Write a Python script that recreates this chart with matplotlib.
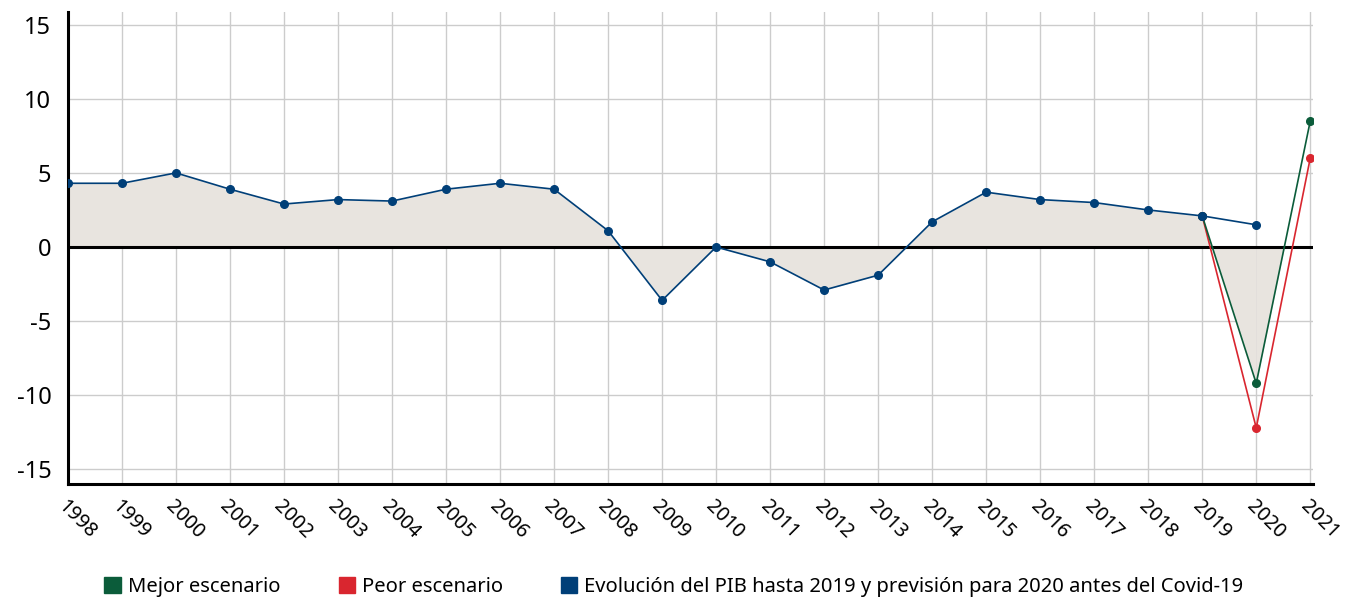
import numpy as np
import matplotlib.pyplot as plt
from matplotlib.patches import Patch

plt.rcParams['font.family'] = ['Noto Sans', 'DejaVu Sans']
plt.rcParams['axes.unicode_minus'] = False

# Datos: crecimiento del PIB (%)
anios = list(range(1998, 2022))
pib = [4.3, 4.3, 5.0, 3.9, 2.9, 3.2, 3.1, 3.9, 4.3, 3.9, 1.1, -3.6, 0.0,
       -1.0, -2.9, -1.9, 1.7, 3.7, 3.2, 3.0, 2.5, 2.1, 1.5]  # 1998-2020
anios_esc = [2019, 2020, 2021]
mejor = [2.1, -9.2, 8.5]
peor = [2.1, -12.2, 6.0]

verde = '#0b5c3a'
rojo = '#d9262f'
azul = '#003f78'
relleno = '#e8e4df'

fig = plt.figure(figsize=(13.48, 6.03), dpi=100)
ax = fig.add_axes([0.0504, 0.197, 0.9236, 0.783])

# Area sombreada: PIB hasta 2019 y mejor escenario
x_area = np.array(anios[:22] + anios_esc[1:])
y_area = np.array(pib[:22] + mejor[1:])
ax.fill_between(x_area[:-1], y_area[:-1], 0, color=relleno, lw=0, zorder=1)
ax.fill_between(x_area[-2:], y_area[-2:], 0, where=y_area[-2:] < 0,
                interpolate=True, color=relleno, lw=0, zorder=1)

ax.axhline(0, color='black', lw=2.2, zorder=3)

ax.plot(anios_esc, peor, color=rojo, lw=1.2, marker='o', ms=5.5, zorder=4)
ax.plot(anios_esc, mejor, color=verde, lw=1.2, marker='o', ms=5.5, zorder=5)
ax.plot(anios[:23], pib, color=azul, lw=1.2, marker='o', ms=5.5, zorder=6)

ax.set_xlim(1998, 2021.05)
ax.set_ylim(-16, 15.85)
ax.set_yticks([-15, -10, -5, 0, 5, 10, 15])
ax.set_xticks(anios)
ax.set_xticklabels([str(a) for a in anios], rotation=-45, ha='left', va='top',
                   rotation_mode='anchor', fontsize=14.3)
ax.tick_params(axis='x', length=0, pad=9)
ax.tick_params(axis='y', length=0, pad=12, labelsize=17)

ax.grid(True, color='#cccccc', lw=1)
ax.set_axisbelow(True)
for lado in ['top', 'right']:
    ax.spines[lado].set_visible(False)
ax.spines['left'].set_linewidth(2.2)
ax.spines['bottom'].set_linewidth(2.2)

handles = [Patch(color=verde, label='Mejor escenario'),
           Patch(color=rojo, label='Peor escenario'),
           Patch(color=azul, label='Evolución del PIB hasta 2019 y previsión para 2020 antes del Covid-19')]
fig.legend(handles=handles, loc='lower center', bbox_to_anchor=(0.5, -0.02), ncol=3,
           frameon=False, fontsize=14.5, handlelength=0.8, handleheight=0.8,
           handletextpad=0.35, columnspacing=2.9)

fig.savefig('out.png', dpi=100)
